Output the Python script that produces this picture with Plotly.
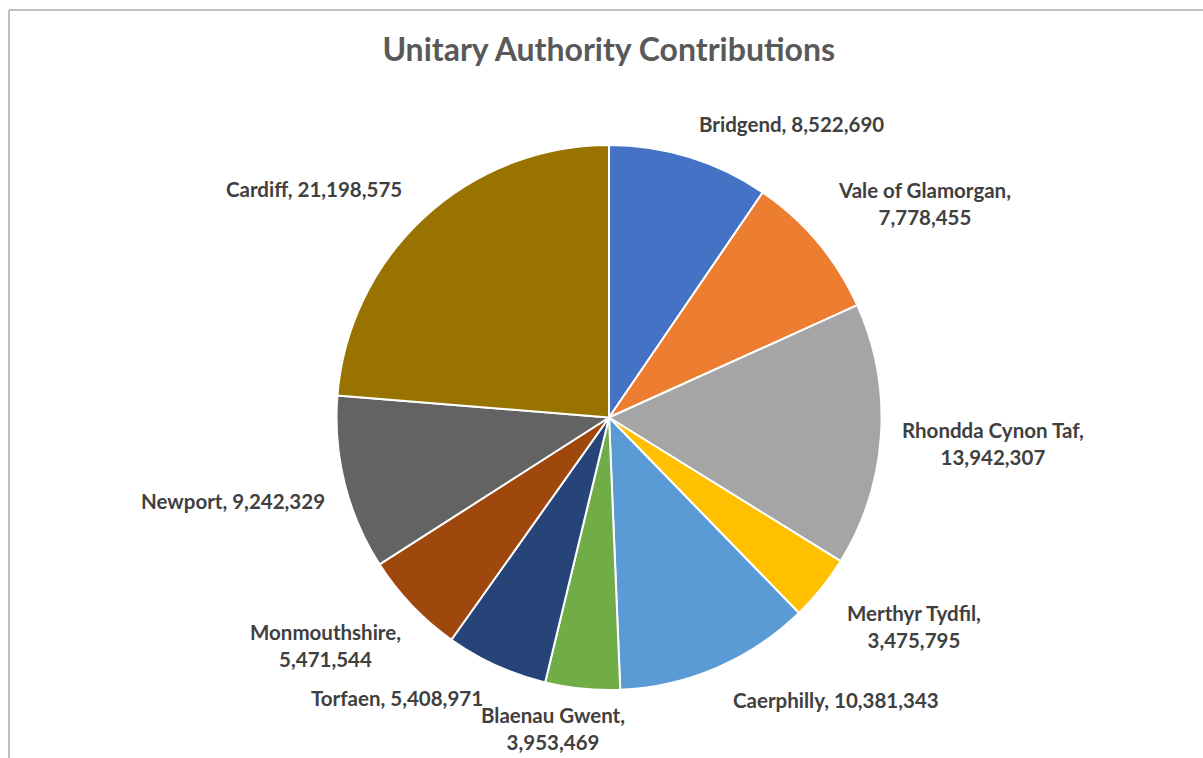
import math
import plotly.graph_objects as go

# ---- data ----
names = ["Bridgend", "Vale of Glamorgan", "Rhondda Cynon Taf", "Merthyr Tydfil",
         "Caerphilly", "Blaenau Gwent", "Torfaen", "Monmouthshire", "Newport", "Cardiff"]
values = [8522690, 7778455, 13942307, 3475795, 10381343, 3953469, 5408971, 5471544,
          9242329, 21198575]
colors = ["#4472C4", "#ED7D31", "#A5A5A5", "#FFC000", "#5B9BD5", "#70AD47",
          "#264478", "#9E480E", "#636363", "#997300"]
wrap = [False, True, True, True, False, True, False, True, False, False]
title_text = "Unitary Authority Contributions"

# ---- layout geometry ----
W, H = 1203, 758
dom_x = [0.2793, 0.7332]
dom_y = [0.0897, 0.8087]
FONT = "Lato"
LABEL_SIZE = 20.5
LABEL_COLOR = "#404040"

fig = go.Figure(go.Pie(
    labels=names, values=values, sort=False, direction="clockwise", rotation=0,
    marker=dict(colors=colors, line=dict(color="white", width=2)),
    textinfo="none", hoverinfo="label+value", showlegend=False,
    domain=dict(x=dom_x, y=dom_y),
))

cx = (dom_x[0] + dom_x[1]) / 2 * W
cy = (1 - (dom_y[0] + dom_y[1]) / 2) * H
R = min((dom_x[1] - dom_x[0]) * W, (dom_y[1] - dom_y[0]) * H) / 2
Rl = R * 1.08

total = sum(values)
cum = 0.0
annotations = []
for name, v, wr in zip(names, values, wrap):
    mid = (cum + v / 2) / total * 2 * math.pi
    cum += v
    s, c = math.sin(mid), math.cos(mid)
    px = cx + Rl * s
    py = cy - Rl * c
    val = f"{v:,}"
    if wr:
        text = f"{name},<br>{val}"
        lines = [name + ",", val]
    else:
        text = f"{name}, {val}"
        lines = [text]
    w = max(len(l) for l in lines) * 0.49 * LABEL_SIZE
    h = len(lines) * 1.2 * LABEL_SIZE
    sx = max(-1, min(1, s * 4))
    sy = max(-1, min(1, -c * 4))
    # label centre in pixels, kept inside the page
    lx = px + sx * w / 2
    ly = py + sy * h / 2
    rendered_h = len(lines) * 1.3 * LABEL_SIZE
    ly = min(ly, H - rendered_h / 2 - 3)
    annotations.append(dict(
        x=lx / W, y=1 - ly / H, xref="paper", yref="paper",
        text=text, showarrow=False, xanchor="center", yanchor="middle",
        align="center",
        font=dict(family=FONT, size=LABEL_SIZE, color=LABEL_COLOR, weight="bold"),
    ))

shapes = [
    dict(type="line", xref="paper", yref="paper", x0=9 / W, x1=1, y0=1 - 10 / H, y1=1 - 10 / H,
         line=dict(color="#BFBFBF", width=2)),
    dict(type="line", xref="paper", yref="paper", x0=9 / W, x1=9 / W, y0=0, y1=1 - 10 / H,
         line=dict(color="#BFBFBF", width=2)),
]

fig.update_layout(
    width=W, height=H,
    margin=dict(l=0, r=0, t=0, b=0),
    paper_bgcolor="white", plot_bgcolor="white",
    title=dict(text=title_text, x=0.506, xanchor="center", y=1 - 50 / H, yanchor="middle",
               font=dict(family=FONT, size=32, color="#595959", weight="bold")),
    annotations=annotations,
    shapes=shapes,
)

fig.write_html("out.html")
